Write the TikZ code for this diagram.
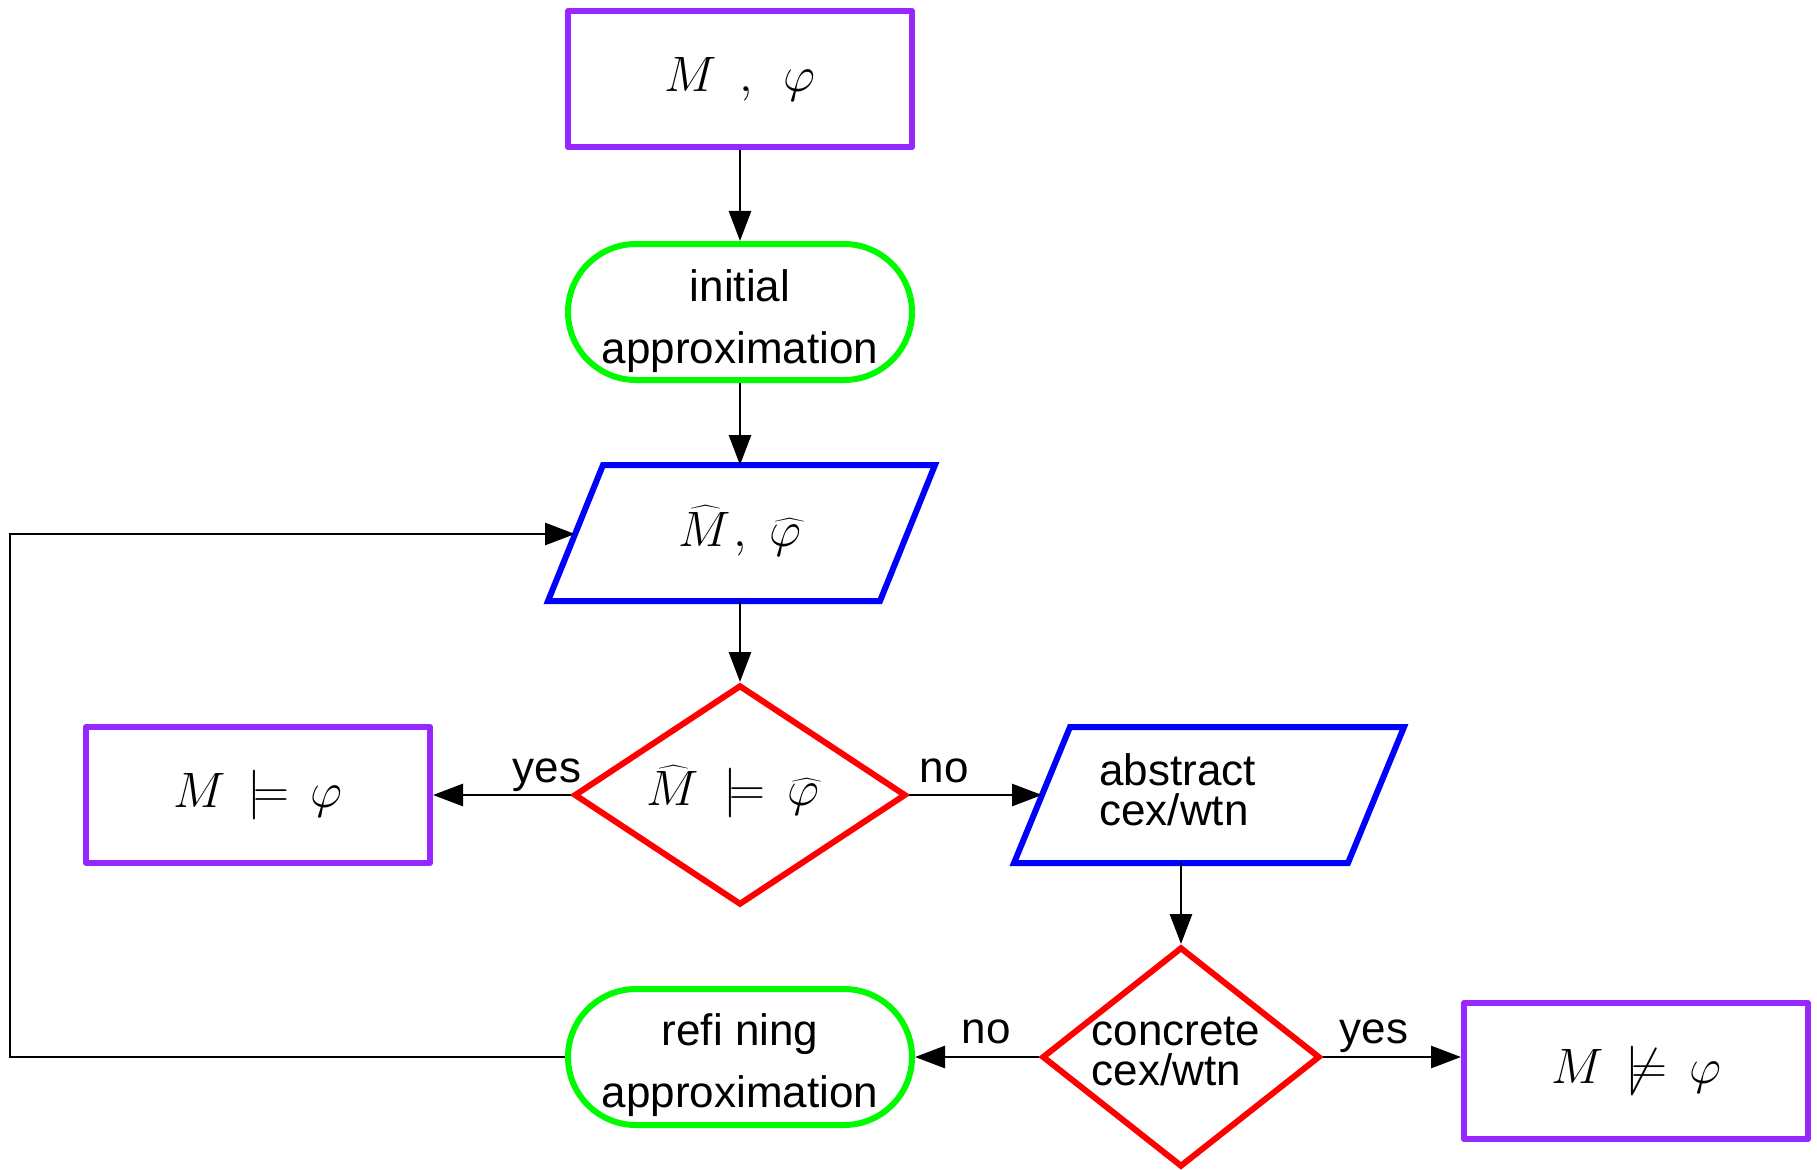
\documentclass[tikz,border=0pt]{standalone}
\usepackage{fontspec}
\setmainfont{Liberation Sans}
\usetikzlibrary{shapes.geometric,shapes.misc,arrows.meta}
\definecolor{boxpurple}{RGB}{150,40,255}
\definecolor{boxgreen}{RGB}{0,250,0}
\definecolor{boxblue}{RGB}{0,0,255}
\definecolor{boxred}{RGB}{255,0,0}
\begin{document}
\begin{tikzpicture}[x=0.5pt,y=-0.5pt,
  txt/.style={font=\fontsize{22}{31}\selectfont, align=center, inner sep=0pt},
  tighttxt/.style={font=\fontsize{22}{20}\selectfont, align=left, inner sep=0pt},
  mth/.style={font=\fontsize{25}{29}\selectfont},
  term/.style={draw=boxpurple, line width=3pt, rectangle, minimum width=172pt, minimum height=68pt, inner sep=0pt, line join=round},
  proc/.style={draw=boxgreen, line width=3pt, rounded rectangle, minimum width=172pt, minimum height=68pt, inner sep=0pt},
  dec/.style={draw=boxred, line width=3pt, diamond, inner sep=0pt},
  io/.style={draw=boxblue, line width=3pt},
  conn/.style={line width=1.4pt, -{Triangle[length=15pt,width=11pt]}},
  lbl/.style={font=\fontsize{22}{31}\selectfont, anchor=base, inner sep=0pt}
]
\useasboundingbox (0,0) rectangle (1817,1169);

% start box
\node[term, mth] (start) at (740,79) {$M\ \,,\ \,\varphi$};

% initial approximation
\node[proc] (init) at (740,312) {};
\node[txt] (initT) at (740,321) {initial\\approximation};

% abstraction parallelogram
\draw[io] (548,601) -- (603,465) -- (935,465) -- (880,601) -- cycle;
\node[mth, inner sep=0pt] (p1) at (740,531) {$\widehat{M\mkern1mu},\ \widehat{\varphi}$};
\coordinate (p1n) at (740,465);
\coordinate (p1s) at (740,601);
\coordinate (p1w) at (575,534);

% first decision
\node[dec, minimum width=166pt, minimum height=110pt, aspect=1.509] (d1) at (740,795) {};
\node[mth, inner sep=0pt] (d1T) at (733,792) {$\widehat{M\mkern1mu} \,\models\, \widehat{\varphi}$};

% result: holds
\node[term, mth] (sat) at (258,795) {$M \,\models\, \varphi$};

% abstract counterexample parallelogram
\draw[io] (1014,863) -- (1070,727) -- (1404,727) -- (1348,863) -- cycle;
\node[tighttxt, anchor=west] (p2) at (1099,790) {abstract\\cex/wtn};
\coordinate (p2w) at (1042,795);
\coordinate (p2s) at (1181,863);

% second decision
\node[dec, minimum width=139pt, minimum height=110pt, aspect=1.264] (d2) at (1181,1057) {};
\node[tighttxt] (d2T) at (1176,1051) {concrete\\cex/wtn};

% refining approximation
\node[proc] (refine) at (740,1057) {};
\node[txt] (refineT) at (740,1065) {refi ning\\approximation};

% result: violated
\node[term, mth] (viol) at (1636,1071) {$M \,\not\models\, \varphi$};

\coordinate (loopc) at (10,534);

% labels
\node[lbl] (yes1) at (547,782) {yes};
\node[lbl] (no1) at (944,782) {no};
\node[lbl] (no2) at (986,1043) {no};
\node[lbl] (yes2) at (1374,1043) {yes};

% connectors
\draw[conn] (start) -- (init);
\draw[conn] (init) -- (p1n);
\draw[conn] (p1s) -- (d1.north);
\draw[conn] (d1.west) -- (sat.east);
\draw[conn] (d1.east) -- (p2w);
\draw[conn] (p2s) -- (d2.north);
\draw[conn] (d2.west) -- (refine.east);
\draw[conn] (d2.east) -- (d2.east -| viol.west);
\draw[conn] (refine.west) -| (loopc) -- (p1w);
\end{tikzpicture}
\end{document}
